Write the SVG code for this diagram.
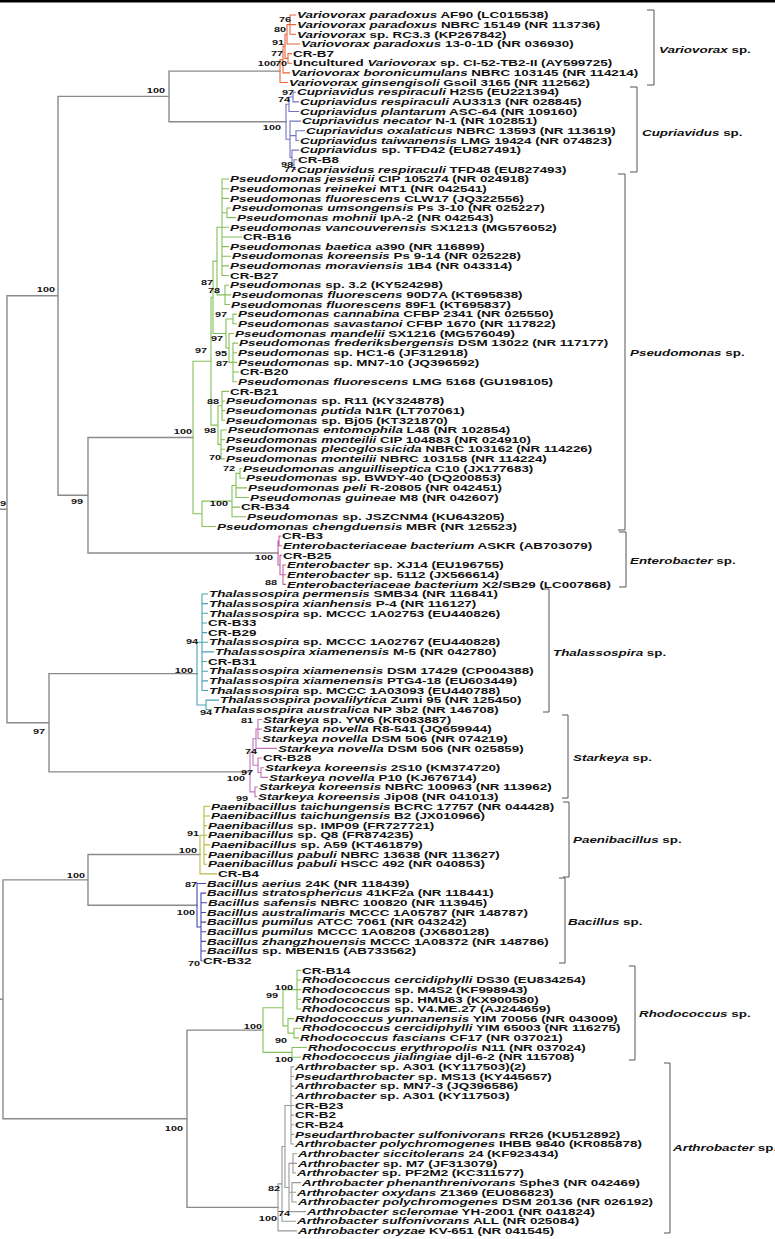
<svg xmlns="http://www.w3.org/2000/svg" width="775" height="1239" viewBox="0 0 775 1239">
<style>
.t{font:bold 9px "Liberation Sans",Arial,sans-serif;fill:#111}
.i{font-style:italic}
.b{font:bold 7.5px "Liberation Sans",Arial,sans-serif;fill:#111;text-anchor:end}
.ln{fill:none;stroke-width:1.1;stroke-linecap:square}
.bb{stroke:#8a8a8a;stroke-width:1.4}
.br{fill:none;stroke:#555;stroke-width:1}
</style>
<rect x="0" y="0" width="775" height="1239" fill="#fff"/>
<rect x="0" y="0" width="775" height="2.5" fill="#000"/>
<g id="connectors">
<path class="ln bb" d="M0,509.3H7 M7,295.8V722.75 M7,295.8H58 M58,96.4V495.25 M58,96.4H169 M169,71.1V121.7 M169,71.1H280 M169,121.7H286 M58,495.25H88 M88,437.5V553 M88,437.5H193 M88,553H278 M7,722.75H49 M49,673.6V771.9 M49,673.6H197 M49,771.9H250 M0,999.3H3 M3,879.9V1118.75 M3,879.9H88 M88,854.55V905.2 M88,854.55H200 M88,905.2H197 M3,1118.75H187 M187,1030.1V1207.4 M187,1030.1H263 M187,1207.4H278"/>
<path class="ln" stroke="#e8643a" d="M290,15V34.3 M290,15H295.5 M290,24.65H295.5 M290,34.3H295.5 M287,24.65V43.95 M287,24.65H290 M287,43.95H299.5 M288,53.6V63.25 M288,53.6H291.5 M288,63.25H291.5 M285,34.3V58.4 M285,34.3H287 M285,58.4H288 M283,46.35V72.9 M283,46.35H285 M283,72.9H289.5 M280,59.6V82.55 M280,59.6H283 M280,82.55H287.5"/>
<path class="ln" stroke="#7474c4" d="M293,92.2V101.85 M293,92.2H295.5 M293,101.85H298.5 M289,97V111.5 M289,97H293 M289,111.5H298.5 M296,130.8V140.45 M296,130.8H304.5 M296,140.45H298.5 M294,159.75V169.4 M294,159.75H296.5 M294,169.4H295.5 M292,150.1V164.6 M292,150.1H298.5 M292,164.6H294 M290,121.15V157.35 M290,121.15H300.5 M290,135.6H296 M290,157.35H292 M286,104.25V139.25 M286,104.25H289 M286,139.25H290"/>
<path class="ln" stroke="#84c057" d="M227,208V217.65 M227,208H230.5 M227,217.65H235.5 M222,179.05V275.55 M222,179.05H228.5 M222,188.7H228.5 M222,198.35H228.5 M222,212.8H227 M222,227.3H228.5 M222,236.95H241.5 M222,246.6H228.5 M222,256.25H230.5 M222,265.9H228.5 M222,275.55H228.5 M225,285.2V304.5 M225,285.2H228.5 M225,294.85H230.5 M225,304.5H229.5 M217,227.3V294.85 M217,227.3H222 M217,294.85H225 M233,314.15V323.8 M233,314.15H236.5 M233,323.8H236.5 M233,343.1V381.7 M233,343.1H237.5 M233,352.75H236.5 M233,362.4H236.5 M233,372.05H238.5 M233,381.7H236.5 M229,333.45V362.4 M229,333.45H233.5 M229,362.4H233 M226,318.98V347.93 M226,318.98H233 M226,347.93H229 M213,261.1V333.45 M213,261.1H217 M213,333.45H226 M222,391.35V420.3 M222,391.35H228.5 M222,401H224.5 M222,410.65H224.5 M222,420.3H224.5 M221,429.95V458.9 M221,429.95H226.5 M221,439.6H224.5 M221,449.25H224.5 M221,458.9H224.5 M218,405.8V444.4 M218,405.8H222 M218,444.4H221 M211,297.3V425.1 M211,297.3H213 M211,425.1H218 M240,468.55V478.2 M240,468.55H241.5 M240,478.2H244.5 M236,473.4V497.5 M236,473.4H240 M236,487.85H246.5 M236,497.5H248.5 M232,485.45V516.8 M232,485.45H236 M232,507.15H239.5 M232,516.8H245.5 M202,501.1V526.45 M202,501.1H232 M202,526.45H215.5 M193,361.2V513.8 M193,361.2H211 M193,513.8H202"/>
<path class="ln" stroke="#c462a6" d="M279,536.1V545.75 M279,536.1H280.5 M279,545.75H281.5 M283,565.05V584.35 M283,565.05H285.5 M283,574.7H285.5 M283,584.35H285.5 M280,555.4V574.7 M280,555.4H281.5 M280,574.7H283 M278,540.93V565.05 M278,540.93H279 M278,565.05H280"/>
<path class="ln" stroke="#4aa3b3" d="M202,594V690.5 M202,594H207.5 M202,603.65H207.5 M202,613.3H207.5 M202,622.95H206.5 M202,632.6H206.5 M202,642.25H207.5 M202,651.9H213.5 M202,661.55H206.5 M202,671.2H207.5 M202,680.85H207.5 M202,690.5H207.5 M206,700.15V709.8 M206,700.15H218.5 M206,709.8H211.5 M197,642.25V704.98 M197,642.25H202 M197,704.98H206"/>
<path class="ln" stroke="#c274ba" d="M258,719.45V738.75 M258,719.45H261.5 M258,729.1H261.5 M258,738.75H260.5 M256,729.1V748.4 M256,729.1H258 M256,748.4H276.5 M261,767.7V777.35 M261,767.7H263.5 M261,777.35H267.5 M258,758.05V772.53 M258,758.05H261.5 M258,772.53H261 M253,738.75V765.29 M253,738.75H256 M253,765.29H258 M255,787V796.65 M255,787H257.5 M255,796.65H256.5 M250,752.02V791.83 M250,752.02H253 M250,791.83H255"/>
<path class="ln" stroke="#b8b845" d="M204,806.3V864.2 M204,806.3H209.5 M204,815.95H209.5 M204,825.6H206.5 M204,835.25H206.5 M204,844.9H209.5 M204,854.55H206.5 M204,864.2H206.5 M200,835.25V873.85 M200,835.25H204 M200,873.85H216.5"/>
<path class="ln" stroke="#4848b4" d="M201,893.15V960.7 M201,893.15H205.5 M201,902.8H206.5 M201,912.45H205.5 M201,922.1H205.5 M201,931.75H205.5 M201,941.4H205.5 M201,951.05H205.5 M201,960.7H202 M197,883.5V926.93 M197,883.5H205.5 M197,926.93H201"/>
<path class="ln" stroke="#86c25a" d="M297,970.35V1008.95 M297,970.35H300.5 M297,980H300.5 M297,989.65H300.5 M297,999.3H300.5 M297,1008.95H300.5 M294,1028.25V1037.9 M294,1028.25H300.5 M294,1037.9H298.5 M288,1018.6V1033.08 M288,1018.6H293.5 M288,1033.08H294 M283,989.65V1025.84 M283,989.65H297 M283,1025.84H288 M292,1047.55V1057.2 M292,1047.55H306.5 M292,1057.2H300.5 M263,1007.75V1052.38 M263,1007.75H283 M263,1052.38H292"/>
<path class="ln" stroke="#9a9a9a" d="M291,1066.85V1144.05 M291,1066.85H293.5 M291,1076.5H293.5 M291,1086.15H293.5 M291,1095.8H293.5 M291,1105.45H293.5 M291,1115.1H293.5 M291,1124.75H293.5 M291,1134.4H293.5 M291,1144.05H293.5 M293,1153.7V1173 M293,1153.7H296.5 M293,1163.35H296.5 M293,1173H295.5 M292,1182.65V1201.95 M292,1182.65H300.5 M292,1192.3H295.5 M292,1201.95H296.5 M289,1163.35V1211.6 M289,1163.35H293 M289,1192.3H292 M289,1211.6H305.5 M285,1105.45V1187.48 M285,1105.45H291 M285,1187.48H289 M282,1146.47V1221.25 M282,1146.47H285 M282,1221.25H295.5 M278,1183.86V1230.9 M278,1183.86H282 M278,1230.9H296.5"/>
</g>
<g id="support-values">
<text class="b" transform="matrix(1.45 0 0 1 291 22)">76</text>
<text class="b" transform="matrix(1.45 0 0 1 286 32)">80</text>
<text class="b" transform="matrix(1.45 0 0 1 284 45)">91</text>
<text class="b" transform="matrix(1.45 0 0 1 283 56)">77</text>
<text class="b" transform="matrix(1.45 0 0 1 276 66)">100</text>
<text class="b" transform="matrix(1.45 0 0 1 287 66)">70</text>
<text class="b" transform="matrix(1.45 0 0 1 294 95)">97</text>
<text class="b" transform="matrix(1.45 0 0 1 290 102)">74</text>
<text class="b" transform="matrix(1.45 0 0 1 281 130)">100</text>
<text class="b" transform="matrix(1.45 0 0 1 293 167)">98</text>
<text class="b" transform="matrix(1.45 0 0 1 296 172)">77</text>
<text class="b" transform="matrix(1.45 0 0 1 165 93)">100</text>
<text class="b" transform="matrix(1.45 0 0 1 55 292)">100</text>
<text class="b" transform="matrix(1.45 0 0 1 213 285)">87</text>
<text class="b" transform="matrix(1.45 0 0 1 220 293)">78</text>
<text class="b" transform="matrix(1.45 0 0 1 227 317)">97</text>
<text class="b" transform="matrix(1.45 0 0 1 223 341)">97</text>
<text class="b" transform="matrix(1.45 0 0 1 207 353)">97</text>
<text class="b" transform="matrix(1.45 0 0 1 227 356)">95</text>
<text class="b" transform="matrix(1.45 0 0 1 228 366)">87</text>
<text class="b" transform="matrix(1.45 0 0 1 219 404)">88</text>
<text class="b" transform="matrix(1.45 0 0 1 216 433)">98</text>
<text class="b" transform="matrix(1.45 0 0 1 221 460)">70</text>
<text class="b" transform="matrix(1.45 0 0 1 235 471)">72</text>
<text class="b" transform="matrix(1.45 0 0 1 228 506)">100</text>
<text class="b" transform="matrix(1.45 0 0 1 192 434)">100</text>
<text class="b" transform="matrix(1.45 0 0 1 83 504)">99</text>
<text class="b" transform="matrix(1.45 0 0 1 273 560)">100</text>
<text class="b" transform="matrix(1.45 0 0 1 277 585)">88</text>
<text class="b" transform="matrix(1.45 0 0 1 198 644)">94</text>
<text class="b" transform="matrix(1.45 0 0 1 193 673)">100</text>
<text class="b" transform="matrix(1.45 0 0 1 212 715)">94</text>
<text class="b" transform="matrix(1.45 0 0 1 45 734)">97</text>
<text class="b" transform="matrix(1.45 0 0 1 253 723)">81</text>
<text class="b" transform="matrix(1.45 0 0 1 257 754)">74</text>
<text class="b" transform="matrix(1.45 0 0 1 253 775)">97</text>
<text class="b" transform="matrix(1.45 0 0 1 245 781)">100</text>
<text class="b" transform="matrix(1.45 0 0 1 248 801)">99</text>
<text class="b" transform="matrix(1.45 0 0 1 199 836)">91</text>
<text class="b" transform="matrix(1.45 0 0 1 197 853)">100</text>
<text class="b" transform="matrix(1.45 0 0 1 85 878)">100</text>
<text class="b" transform="matrix(1.45 0 0 1 197 887)">87</text>
<text class="b" transform="matrix(1.45 0 0 1 195 915)">100</text>
<text class="b" transform="matrix(1.45 0 0 1 200 966)">70</text>
<text class="b" transform="matrix(1.45 0 0 1 293 990)">100</text>
<text class="b" transform="matrix(1.45 0 0 1 278 998)">99</text>
<text class="b" transform="matrix(1.45 0 0 1 262 1029)">100</text>
<text class="b" transform="matrix(1.45 0 0 1 287 1043)">90</text>
<text class="b" transform="matrix(1.45 0 0 1 293 1062)">100</text>
<text class="b" transform="matrix(1.45 0 0 1 183 1131)">100</text>
<text class="b" transform="matrix(1.45 0 0 1 280 1191)">82</text>
<text class="b" transform="matrix(1.45 0 0 1 290 1216)">74</text>
<text class="b" transform="matrix(1.45 0 0 1 277 1221)">100</text>
<text class="b" style="text-anchor:start" transform="matrix(1.45 0 0 1 0 506)">9</text>
</g>
<g id="leaves">
<g id="l0"><text class="t" transform="matrix(1.49 0 0 1 297 18.2)"><tspan class="i">Variovorax paradoxus</tspan> AF90 (LC015538)</text></g>
<g id="l1"><text class="t" transform="matrix(1.49 0 0 1 297 27.85)"><tspan class="i">Variovorax paradoxus</tspan> NBRC 15149 (NR 113736)</text></g>
<g id="l2"><text class="t" transform="matrix(1.49 0 0 1 297 37.5)"><tspan class="i">Variovorax</tspan> sp. RC3.3 (KP267842)</text></g>
<g id="l3"><text class="t" transform="matrix(1.49 0 0 1 301 47.15)"><tspan class="i">Variovorax paradoxus</tspan> 13-0-1D (NR 036930)</text></g>
<g id="l4"><text class="t" transform="matrix(1.49 0 0 1 293 56.8)">CR-B7</text></g>
<g id="l5"><text class="t" transform="matrix(1.49 0 0 1 293 66.45)">Uncultured <tspan class="i">Variovorax</tspan> sp. CI-52-TB2-II (AY599725)</text></g>
<g id="l6"><text class="t" transform="matrix(1.49 0 0 1 291 76.1)"><tspan class="i">Variovorax boronicumulans</tspan> NBRC 103145 (NR 114214)</text></g>
<g id="l7"><text class="t" transform="matrix(1.49 0 0 1 289 85.75)"><tspan class="i">Variovorax ginsengisoli</tspan> Gsoil 3165 (NR 112562)</text></g>
<g id="l8"><text class="t" transform="matrix(1.49 0 0 1 297 95.4)"><tspan class="i">Cupriavidus respiraculi</tspan> H2S5 (EU221394)</text></g>
<g id="l9"><text class="t" transform="matrix(1.49 0 0 1 300 105.05)"><tspan class="i">Cupriavidus respiraculi</tspan> AU3313 (NR 028845)</text></g>
<g id="l10"><text class="t" transform="matrix(1.49 0 0 1 300 114.7)"><tspan class="i">Cupriavidus plantarum</tspan> ASC-64 (NR 109160)</text></g>
<g id="l11"><text class="t" transform="matrix(1.49 0 0 1 302 124.35)"><tspan class="i">Cupriavidus necator</tspan> N-1 (NR 102851)</text></g>
<g id="l12"><text class="t" transform="matrix(1.49 0 0 1 306 134)"><tspan class="i">Cupriavidus oxalaticus</tspan> NBRC 13593 (NR 113619)</text></g>
<g id="l13"><text class="t" transform="matrix(1.49 0 0 1 300 143.65)"><tspan class="i">Cupriavidus taiwanensis</tspan> LMG 19424 (NR 074823)</text></g>
<g id="l14"><text class="t" transform="matrix(1.49 0 0 1 300 153.3)"><tspan class="i">Cupriavidus</tspan> sp. TFD42 (EU827491)</text></g>
<g id="l15"><text class="t" transform="matrix(1.49 0 0 1 298 162.95)">CR-B8</text></g>
<g id="l16"><text class="t" transform="matrix(1.49 0 0 1 297 172.6)"><tspan class="i">Cupriavidus respiraculi</tspan> TFD48 (EU827493)</text></g>
<g id="l17"><text class="t" transform="matrix(1.49 0 0 1 230 182.25)"><tspan class="i">Pseudomonas jessenii</tspan> CIP 105274 (NR 024918)</text></g>
<g id="l18"><text class="t" transform="matrix(1.49 0 0 1 230 191.9)"><tspan class="i">Pseudomonas reinekei</tspan> MT1 (NR 042541)</text></g>
<g id="l19"><text class="t" transform="matrix(1.49 0 0 1 230 201.55)"><tspan class="i">Pseudomonas fluorescens</tspan> CLW17 (JQ322556)</text></g>
<g id="l20"><text class="t" transform="matrix(1.49 0 0 1 232 211.2)"><tspan class="i">Pseudomonas umsongensis</tspan> Ps 3-10 (NR 025227)</text></g>
<g id="l21"><text class="t" transform="matrix(1.49 0 0 1 237 220.85)"><tspan class="i">Pseudomonas mohnii</tspan> IpA-2 (NR 042543)</text></g>
<g id="l22"><text class="t" transform="matrix(1.49 0 0 1 230 230.5)"><tspan class="i">Pseudomonas vancouverensis</tspan> SX1213 (MG576052)</text></g>
<g id="l23"><text class="t" transform="matrix(1.49 0 0 1 243 240.15)">CR-B16</text></g>
<g id="l24"><text class="t" transform="matrix(1.49 0 0 1 230 249.8)"><tspan class="i">Pseudomonas baetica</tspan> a390 (NR 116899)</text></g>
<g id="l25"><text class="t" transform="matrix(1.49 0 0 1 232 259.45)"><tspan class="i">Pseudomonas koreensis</tspan> Ps 9-14 (NR 025228)</text></g>
<g id="l26"><text class="t" transform="matrix(1.49 0 0 1 230 269.1)"><tspan class="i">Pseudomonas moraviensis</tspan> 1B4 (NR 043314)</text></g>
<g id="l27"><text class="t" transform="matrix(1.49 0 0 1 230 278.75)">CR-B27</text></g>
<g id="l28"><text class="t" transform="matrix(1.49 0 0 1 230 288.4)"><tspan class="i">Pseudomonas</tspan> sp. 3.2 (KY524298)</text></g>
<g id="l29"><text class="t" transform="matrix(1.49 0 0 1 232 298.05)"><tspan class="i">Pseudomonas fluorescens</tspan> 90D7A (KT695838)</text></g>
<g id="l30"><text class="t" transform="matrix(1.49 0 0 1 231 307.7)"><tspan class="i">Pseudomonas fluorescens</tspan> 89F1 (KT695837)</text></g>
<g id="l31"><text class="t" transform="matrix(1.49 0 0 1 238 317.35)"><tspan class="i">Pseudomonas cannabina</tspan> CFBP 2341 (NR 025550)</text></g>
<g id="l32"><text class="t" transform="matrix(1.49 0 0 1 238 327)"><tspan class="i">Pseudomonas savastanoi</tspan> CFBP 1670 (NR 117822)</text></g>
<g id="l33"><text class="t" transform="matrix(1.49 0 0 1 235 336.65)"><tspan class="i">Pseudomonas mandelii</tspan> SX1216 (MG576049)</text></g>
<g id="l34"><text class="t" transform="matrix(1.49 0 0 1 239 346.3)"><tspan class="i">Pseudomonas frederiksbergensis</tspan> DSM 13022 (NR 117177)</text></g>
<g id="l35"><text class="t" transform="matrix(1.49 0 0 1 238 355.95)"><tspan class="i">Pseudomonas</tspan> sp. HC1-6 (JF312918)</text></g>
<g id="l36"><text class="t" transform="matrix(1.49 0 0 1 238 365.6)"><tspan class="i">Pseudomonas</tspan> sp. MN7-10 (JQ396592)</text></g>
<g id="l37"><text class="t" transform="matrix(1.49 0 0 1 240 375.25)">CR-B20</text></g>
<g id="l38"><text class="t" transform="matrix(1.49 0 0 1 238 384.9)"><tspan class="i">Pseudomonas fluorescens</tspan> LMG 5168 (GU198105)</text></g>
<g id="l39"><text class="t" transform="matrix(1.49 0 0 1 230 394.55)">CR-B21</text></g>
<g id="l40"><text class="t" transform="matrix(1.49 0 0 1 226 404.2)"><tspan class="i">Pseudomonas</tspan> sp. R11 (KY324878)</text></g>
<g id="l41"><text class="t" transform="matrix(1.49 0 0 1 226 413.85)"><tspan class="i">Pseudomonas putida</tspan> N1R (LT707061)</text></g>
<g id="l42"><text class="t" transform="matrix(1.49 0 0 1 226 423.5)"><tspan class="i">Pseudomonas</tspan> sp. Bj05 (KT321870)</text></g>
<g id="l43"><text class="t" transform="matrix(1.49 0 0 1 228 433.15)"><tspan class="i">Pseudomonas entomophila</tspan> L48 (NR 102854)</text></g>
<g id="l44"><text class="t" transform="matrix(1.49 0 0 1 226 442.8)"><tspan class="i">Pseudomonas monteilii</tspan> CIP 104883 (NR 024910)</text></g>
<g id="l45"><text class="t" transform="matrix(1.49 0 0 1 226 452.45)"><tspan class="i">Pseudomonas plecoglossicida</tspan> NBRC 103162 (NR 114226)</text></g>
<g id="l46"><text class="t" transform="matrix(1.49 0 0 1 226 462.1)"><tspan class="i">Pseudomonas monteilii</tspan> NBRC 103158 (NR 114224)</text></g>
<g id="l47"><text class="t" transform="matrix(1.49 0 0 1 243 471.75)"><tspan class="i">Pseudomonas anguilliseptica</tspan> C10 (JX177683)</text></g>
<g id="l48"><text class="t" transform="matrix(1.49 0 0 1 246 481.4)"><tspan class="i">Pseudomonas</tspan> sp. BWDY-40 (DQ200853)</text></g>
<g id="l49"><text class="t" transform="matrix(1.49 0 0 1 248 491.05)"><tspan class="i">Pseudomonas peli</tspan> R-20805 (NR 042451)</text></g>
<g id="l50"><text class="t" transform="matrix(1.49 0 0 1 250 500.7)"><tspan class="i">Pseudomonas guineae</tspan> M8 (NR 042607)</text></g>
<g id="l51"><text class="t" transform="matrix(1.49 0 0 1 241 510.35)">CR-B34</text></g>
<g id="l52"><text class="t" transform="matrix(1.49 0 0 1 247 520)"><tspan class="i">Pseudomonas</tspan> sp. JSZCNM4 (KU643205)</text></g>
<g id="l53"><text class="t" transform="matrix(1.49 0 0 1 217 529.65)"><tspan class="i">Pseudomonas chengduensis</tspan> MBR (NR 125523)</text></g>
<g id="l54"><text class="t" transform="matrix(1.49 0 0 1 282 539.3)">CR-B3</text></g>
<g id="l55"><text class="t" transform="matrix(1.49 0 0 1 283 548.95)"><tspan class="i">Enterobacteriaceae bacterium</tspan> ASKR (AB703079)</text></g>
<g id="l56"><text class="t" transform="matrix(1.49 0 0 1 283 558.6)">CR-B25</text></g>
<g id="l57"><text class="t" transform="matrix(1.49 0 0 1 287 568.25)"><tspan class="i">Enterobacter</tspan> sp. XJ14 (EU196755)</text></g>
<g id="l58"><text class="t" transform="matrix(1.49 0 0 1 287 577.9)"><tspan class="i">Enterobacter</tspan> sp. 5112 (JX566614)</text></g>
<g id="l59"><text class="t" transform="matrix(1.49 0 0 1 287 587.55)"><tspan class="i">Enterobacteriaceae bacterium</tspan> X2/SB29 (LC007868)</text></g>
<g id="l60"><text class="t" transform="matrix(1.49 0 0 1 209 597.2)"><tspan class="i">Thalassospira permensis</tspan> SMB34 (NR 116841)</text></g>
<g id="l61"><text class="t" transform="matrix(1.49 0 0 1 209 606.85)"><tspan class="i">Thalassospira xianhensis</tspan> P-4 (NR 116127)</text></g>
<g id="l62"><text class="t" transform="matrix(1.49 0 0 1 209 616.5)"><tspan class="i">Thalassospira</tspan> sp. MCCC 1A02753 (EU440826)</text></g>
<g id="l63"><text class="t" transform="matrix(1.49 0 0 1 208 626.15)">CR-B33</text></g>
<g id="l64"><text class="t" transform="matrix(1.49 0 0 1 208 635.8)">CR-B29</text></g>
<g id="l65"><text class="t" transform="matrix(1.49 0 0 1 209 645.45)"><tspan class="i">Thalassospira</tspan> sp. MCCC 1A02767 (EU440828)</text></g>
<g id="l66"><text class="t" transform="matrix(1.49 0 0 1 215 655.1)"><tspan class="i">Thalassospira xiamenensis</tspan> M-5 (NR 042780)</text></g>
<g id="l67"><text class="t" transform="matrix(1.49 0 0 1 208 664.75)">CR-B31</text></g>
<g id="l68"><text class="t" transform="matrix(1.49 0 0 1 209 674.4)"><tspan class="i">Thalassospira xiamenensis</tspan> DSM 17429 (CP004388)</text></g>
<g id="l69"><text class="t" transform="matrix(1.49 0 0 1 209 684.05)"><tspan class="i">Thalassospira xiamenensis</tspan> PTG4-18 (EU603449)</text></g>
<g id="l70"><text class="t" transform="matrix(1.49 0 0 1 209 693.7)"><tspan class="i">Thalassospira</tspan> sp. MCCC 1A03093 (EU440788)</text></g>
<g id="l71"><text class="t" transform="matrix(1.49 0 0 1 220 703.35)"><tspan class="i">Thalassospira povalilytica</tspan> Zumi 95 (NR 125450)</text></g>
<g id="l72"><text class="t" transform="matrix(1.49 0 0 1 213 713)"><tspan class="i">Thalassospira australica</tspan> NP 3b2 (NR 146708)</text></g>
<g id="l73"><text class="t" transform="matrix(1.49 0 0 1 263 722.65)"><tspan class="i">Starkeya</tspan> sp. YW6 (KR083887)</text></g>
<g id="l74"><text class="t" transform="matrix(1.49 0 0 1 263 732.3)"><tspan class="i">Starkeya novella</tspan> R8-541 (JQ659944)</text></g>
<g id="l75"><text class="t" transform="matrix(1.49 0 0 1 262 741.95)"><tspan class="i">Starkeya novella</tspan> DSM 506 (NR 074219)</text></g>
<g id="l76"><text class="t" transform="matrix(1.49 0 0 1 278 751.6)"><tspan class="i">Starkeya novella</tspan> DSM 506 (NR 025859)</text></g>
<g id="l77"><text class="t" transform="matrix(1.49 0 0 1 263 761.25)">CR-B28</text></g>
<g id="l78"><text class="t" transform="matrix(1.49 0 0 1 265 770.9)"><tspan class="i">Starkeya koreensis</tspan> 2S10 (KM374720)</text></g>
<g id="l79"><text class="t" transform="matrix(1.49 0 0 1 269 780.55)"><tspan class="i">Starkeya novella</tspan> P10 (KJ676714)</text></g>
<g id="l80"><text class="t" transform="matrix(1.49 0 0 1 259 790.2)"><tspan class="i">Starkeya koreensis</tspan> NBRC 100963 (NR 113962)</text></g>
<g id="l81"><text class="t" transform="matrix(1.49 0 0 1 258 799.85)"><tspan class="i">Starkeya koreensis</tspan> Jip08 (NR 041013)</text></g>
<g id="l82"><text class="t" transform="matrix(1.49 0 0 1 211 809.5)"><tspan class="i">Paenibacillus taichungensis</tspan> BCRC 17757 (NR 044428)</text></g>
<g id="l83"><text class="t" transform="matrix(1.49 0 0 1 211 819.15)"><tspan class="i">Paenibacillus taichungensis</tspan> B2 (JX010966)</text></g>
<g id="l84"><text class="t" transform="matrix(1.49 0 0 1 208 828.8)"><tspan class="i">Paenibacillus</tspan> sp. IMP09 (FR727721)</text></g>
<g id="l85"><text class="t" transform="matrix(1.49 0 0 1 208 838.45)"><tspan class="i">Paenibacillus</tspan> sp. Q8 (FR874235)</text></g>
<g id="l86"><text class="t" transform="matrix(1.49 0 0 1 211 848.1)"><tspan class="i">Paenibacillus</tspan> sp. A59 (KT461879)</text></g>
<g id="l87"><text class="t" transform="matrix(1.49 0 0 1 208 857.75)"><tspan class="i">Paenibacillus pabuli</tspan> NBRC 13638 (NR 113627)</text></g>
<g id="l88"><text class="t" transform="matrix(1.49 0 0 1 208 867.4)"><tspan class="i">Paenibacillus pabuli</tspan> HSCC 492 (NR 040853)</text></g>
<g id="l89"><text class="t" transform="matrix(1.49 0 0 1 218 877.05)">CR-B4</text></g>
<g id="l90"><text class="t" transform="matrix(1.49 0 0 1 207 886.7)"><tspan class="i">Bacillus aerius</tspan> 24K (NR 118439)</text></g>
<g id="l91"><text class="t" transform="matrix(1.49 0 0 1 207 896.35)"><tspan class="i">Bacillus stratosphericus</tspan> 41KF2a (NR 118441)</text></g>
<g id="l92"><text class="t" transform="matrix(1.49 0 0 1 208 906)"><tspan class="i">Bacillus safensis</tspan> NBRC 100820 (NR 113945)</text></g>
<g id="l93"><text class="t" transform="matrix(1.49 0 0 1 207 915.65)"><tspan class="i">Bacillus australimaris</tspan> MCCC 1A05787 (NR 148787)</text></g>
<g id="l94"><text class="t" transform="matrix(1.49 0 0 1 207 925.3)"><tspan class="i">Bacillus pumilus</tspan> ATCC 7061 (NR 043242)</text></g>
<g id="l95"><text class="t" transform="matrix(1.49 0 0 1 207 934.95)"><tspan class="i">Bacillus pumilus</tspan> MCCC 1A08208 (JX680128)</text></g>
<g id="l96"><text class="t" transform="matrix(1.49 0 0 1 207 944.6)"><tspan class="i">Bacillus zhangzhouensis</tspan> MCCC 1A08372 (NR 148786)</text></g>
<g id="l97"><text class="t" transform="matrix(1.49 0 0 1 207 954.25)"><tspan class="i">Bacillus</tspan> sp. MBEN15 (AB733562)</text></g>
<g id="l98"><text class="t" transform="matrix(1.49 0 0 1 203 963.9)">CR-B32</text></g>
<g id="l99"><text class="t" transform="matrix(1.49 0 0 1 302 973.55)">CR-B14</text></g>
<g id="l100"><text class="t" transform="matrix(1.49 0 0 1 302 983.2)"><tspan class="i">Rhodococcus cercidiphylli</tspan> DS30 (EU834254)</text></g>
<g id="l101"><text class="t" transform="matrix(1.49 0 0 1 302 992.85)"><tspan class="i">Rhodococcus</tspan> sp. M4S2 (KF998943)</text></g>
<g id="l102"><text class="t" transform="matrix(1.49 0 0 1 302 1002.5)"><tspan class="i">Rhodococcus</tspan> sp. HMU63 (KX900580)</text></g>
<g id="l103"><text class="t" transform="matrix(1.49 0 0 1 302 1012.15)"><tspan class="i">Rhodococcus</tspan> sp. V4.ME.27 (AJ244659)</text></g>
<g id="l104"><text class="t" transform="matrix(1.49 0 0 1 295 1021.8)"><tspan class="i">Rhodococcus yunnanensis</tspan> YIM 70056 (NR 043009)</text></g>
<g id="l105"><text class="t" transform="matrix(1.49 0 0 1 302 1031.45)"><tspan class="i">Rhodococcus cercidiphylli</tspan> YIM 65003 (NR 116275)</text></g>
<g id="l106"><text class="t" transform="matrix(1.49 0 0 1 300 1041.1)"><tspan class="i">Rhodococcus fascians</tspan> CF17 (NR 037021)</text></g>
<g id="l107"><text class="t" transform="matrix(1.49 0 0 1 308 1050.75)"><tspan class="i">Rhodococcus erythropolis</tspan> N11 (NR 037024)</text></g>
<g id="l108"><text class="t" transform="matrix(1.49 0 0 1 302 1060.4)"><tspan class="i">Rhodococcus jialingiae</tspan> djl-6-2 (NR 115708)</text></g>
<g id="l109"><text class="t" transform="matrix(1.49 0 0 1 295 1070.05)"><tspan class="i">Arthrobacter</tspan> sp. A301 (KY117503)(2)</text></g>
<g id="l110"><text class="t" transform="matrix(1.49 0 0 1 295 1079.7)"><tspan class="i">Pseudarthrobacter</tspan> sp. MS13 (KY445657)</text></g>
<g id="l111"><text class="t" transform="matrix(1.49 0 0 1 295 1089.35)"><tspan class="i">Arthrobacter</tspan> sp. MN7-3 (JQ396586)</text></g>
<g id="l112"><text class="t" transform="matrix(1.49 0 0 1 295 1099)"><tspan class="i">Arthrobacter</tspan> sp. A301 (KY117503)</text></g>
<g id="l113"><text class="t" transform="matrix(1.49 0 0 1 295 1108.65)">CR-B23</text></g>
<g id="l114"><text class="t" transform="matrix(1.49 0 0 1 295 1118.3)">CR-B2</text></g>
<g id="l115"><text class="t" transform="matrix(1.49 0 0 1 295 1127.95)">CR-B24</text></g>
<g id="l116"><text class="t" transform="matrix(1.49 0 0 1 295 1137.6)"><tspan class="i">Pseudarthrobacter sulfonivorans</tspan> RR26 (KU512892)</text></g>
<g id="l117"><text class="t" transform="matrix(1.49 0 0 1 295 1147.25)"><tspan class="i">Arthrobacter polychromogenes</tspan> IHBB 9840 (KR085878)</text></g>
<g id="l118"><text class="t" transform="matrix(1.49 0 0 1 298 1156.9)"><tspan class="i">Arthrobacter siccitolerans</tspan> 24 (KF923434)</text></g>
<g id="l119"><text class="t" transform="matrix(1.49 0 0 1 298 1166.55)"><tspan class="i">Arthrobacter</tspan> sp. M7 (JF313079)</text></g>
<g id="l120"><text class="t" transform="matrix(1.49 0 0 1 297 1176.2)"><tspan class="i">Arthrobacter</tspan> sp. PF2M2 (KC311577)</text></g>
<g id="l121"><text class="t" transform="matrix(1.49 0 0 1 302 1185.85)"><tspan class="i">Arthrobacter phenanthrenivorans</tspan> Sphe3 (NR 042469)</text></g>
<g id="l122"><text class="t" transform="matrix(1.49 0 0 1 297 1195.5)"><tspan class="i">Arthrobacter oxydans</tspan> Z1369 (EU086823)</text></g>
<g id="l123"><text class="t" transform="matrix(1.49 0 0 1 298 1205.15)"><tspan class="i">Arthrobacter polychromogenes</tspan> DSM 20136 (NR 026192)</text></g>
<g id="l124"><text class="t" transform="matrix(1.49 0 0 1 307 1214.8)"><tspan class="i">Arthrobacter scleromae</tspan> YH-2001 (NR 041824)</text></g>
<g id="l125"><text class="t" transform="matrix(1.49 0 0 1 297 1224.45)"><tspan class="i">Arthrobacter sulfonivorans</tspan> ALL (NR 025084)</text></g>
<g id="l126"><text class="t" transform="matrix(1.49 0 0 1 298 1234.1)"><tspan class="i">Arthrobacter oryzae</tspan> KV-651 (NR 041545)</text></g>
</g>
<g id="clade-variovorax"><path class="br" d="M647,10H654V85H647"/><text class="t" transform="matrix(1.49 0 0 1 659 53)"><tspan class="i">Variovorax</tspan> sp.</text></g>
<g id="clade-cupriavidus"><path class="br" d="M630,87H637V172H630"/><text class="t" transform="matrix(1.49 0 0 1 642 136)"><tspan class="i">Cupriavidus</tspan> sp.</text></g>
<g id="clade-pseudomonas"><path class="br" d="M618,174H625V530H618"/><text class="t" transform="matrix(1.49 0 0 1 630 356)"><tspan class="i">Pseudomonas</tspan> sp.</text></g>
<g id="clade-enterobacter"><path class="br" d="M619,532H626V587H619"/><text class="t" transform="matrix(1.49 0 0 1 630 564)"><tspan class="i">Enterobacter</tspan> sp.</text></g>
<g id="clade-thalassospira"><path class="br" d="M543,589H549V712H543"/><text class="t" transform="matrix(1.49 0 0 1 553 656)"><tspan class="i">Thalassospira</tspan> sp.</text></g>
<g id="clade-starkeya"><path class="br" d="M562,715H568V798H562"/><text class="t" transform="matrix(1.49 0 0 1 573 761)"><tspan class="i">Starkeya</tspan> sp.</text></g>
<g id="clade-paenibacillus"><path class="br" d="M563,802H569V877H563"/><text class="t" transform="matrix(1.49 0 0 1 573 843)"><tspan class="i">Paenibacillus</tspan> sp.</text></g>
<g id="clade-bacillus"><path class="br" d="M559,878H565V963H559"/><text class="t" transform="matrix(1.49 0 0 1 568 925)"><tspan class="i">Bacillus</tspan> sp.</text></g>
<g id="clade-rhodococcus"><path class="br" d="M629,966H635V1060H629"/><text class="t" transform="matrix(1.49 0 0 1 639 1017)"><tspan class="i">Rhodococcus</tspan> sp.</text></g>
<g id="clade-arthrobacter"><path class="br" d="M664,1063H670V1233H664"/><text class="t" transform="matrix(1.49 0 0 1 673 1151)"><tspan class="i">Arthrobacter</tspan> sp.</text></g>
</svg>
